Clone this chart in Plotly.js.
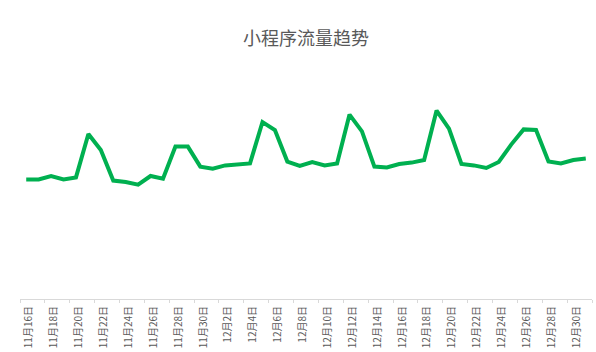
<!DOCTYPE html>
<html>
<head>
<meta charset="utf-8">
<script src="https://cdn.plot.ly/plotly-3.0.1.min.js"></script>
<style>html,body{margin:0;padding:0;background:#fff;}#chart{width:596px;height:352px;}</style>
</head>
<body>
<div id="chart"></div>
<script>
const dates = [
  "11月16日","11月17日","11月18日","11月19日","11月20日","11月21日","11月22日","11月23日",
  "11月24日","11月25日","11月26日","11月27日","11月28日","11月29日","11月30日",
  "12月1日","12月2日","12月3日","12月4日","12月5日","12月6日","12月7日","12月8日",
  "12月9日","12月10日","12月11日","12月12日","12月13日","12月14日","12月15日","12月16日",
  "12月17日","12月18日","12月19日","12月20日","12月21日","12月22日","12月23日","12月24日",
  "12月25日","12月26日","12月27日","12月28日","12月29日","12月30日","12月31日"
];
const traffic = [
  5980,5980,6150,5980,6080,8250,7450,5920,
  5850,5720,6150,6020,7620,7620,6620,
  6520,6680,6720,6780,8850,8450,6870,6650,
  6850,6680,6780,9220,8380,6620,6580,6750,
  6820,6950,9420,8520,6750,6680,6550,6850,
  7720,8480,8450,6880,6780,6950,7020
];
const chartTitle = "小程序流量趋势";

const data = [{
  type: "scatter",
  mode: "lines",
  x: dates,
  y: traffic,
  line: {color: "#00B050", width: 4},
  hoverinfo: "x+y"
}];

const layout = {
  width: 596,
  height: 352,
  margin: {l: 20, r: 4, t: 60, b: 53},
  paper_bgcolor: "#ffffff",
  plot_bgcolor: "#ffffff",
  showlegend: false,
  font: {family: "'Noto Sans CJK SC', 'Noto Sans', sans-serif", color: "#595959"},
  title: {
    text: chartTitle,
    font: {family: "'Noto Sans CJK SC', sans-serif", size: 18, color: "#595959"},
    xref: "paper", x: 0.5, xanchor: "center",
    yref: "container", y: 0.89, yanchor: "middle"
  },
  xaxis: {
    type: "category",
    range: [-0.5, 45.5],
    dtick: 2,
    tick0: 0,
    tickson: "boundaries",
    ticks: "outside",
    ticklen: 3,
    tickcolor: "#d9d9d9",
    tickangle: -90,
    ticklabelshift: 3,
    ticklabelstandoff: 2,
    tickfont: {family: "'Noto Sans CJK SC', sans-serif", size: 10, color: "#595959"},
    showline: true,
    linecolor: "#d9d9d9",
    linewidth: 1,
    showgrid: false,
    zeroline: false,
    fixedrange: true
  },
  yaxis: {
    range: [0, 11950],
    visible: false,
    showgrid: false,
    zeroline: false,
    fixedrange: true
  }
};

Plotly.newPlot("chart", data, layout, {displayModeBar: false, staticPlot: true});
</script>
</body>
</html>
